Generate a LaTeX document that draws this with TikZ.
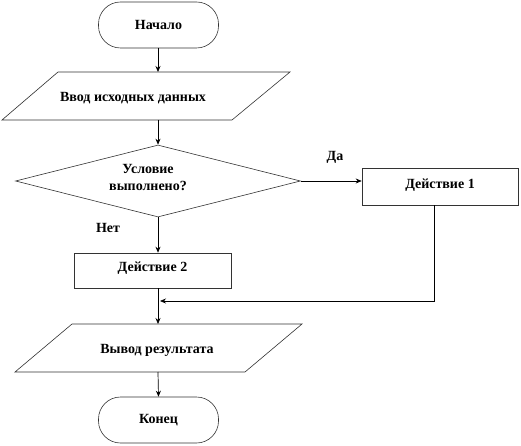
\documentclass[tikz,border=0pt]{standalone}
\usepackage{fontspec}
\setmainfont{Liberation Serif}
\usetikzlibrary{shapes.geometric,arrows.meta}
\begin{document}
\begin{tikzpicture}[x=1pt,y=-1pt,
  every node/.style={font=\fontsize{14}{15}\selectfont\bfseries},
  shapeline/.style={draw=black!80,line width=0.6pt},
  conn/.style={draw=black,line width=0.7pt,-{Stealth[length=6pt,width=5pt]}},
  term/.style={shapeline,rounded corners=22pt,minimum width=120pt,minimum height=46pt,inner sep=0pt},
  procbox/.style={shapeline,rectangle,inner sep=0pt},
  lbl/.style={inner sep=0pt}]
\useasboundingbox (0,0) rectangle (521,446);
% start
\node[term] (start) at (158.5,25) {Начало};
% input parallelogram
\draw[shapeline] (58,72) -- (290,72) -- (232,120) -- (2,120) -- cycle;
\node[lbl] (inp) at (133,98) {Ввод исходных данных};
\coordinate (inT) at (158,72);
\coordinate (inB) at (158,120);
% decision
\node[shapeline,diamond,minimum width=285pt,minimum height=72pt,inner sep=0pt] (dec) at (158,181) {};
\node[lbl,align=center] (dect) at (148,178) {Условие\\[2pt]выполнено?};
% action 1
\node[procbox,minimum width=156pt,minimum height=37pt] (a1) at (440,186.5) {};
\node[lbl] (a1t) at (440,185) {Действие 1};
% action 2
\node[procbox,minimum width=157pt,minimum height=35pt] (a2) at (152.5,270.5) {};
\node[lbl] (a2t) at (152.5,268) {Действие 2};
% output parallelogram
\draw[shapeline] (72,324) -- (302,324) -- (245,372) -- (15,372) -- cycle;
\node[lbl] (outp) at (157,350) {Вывод результата};
\coordinate (outT) at (158,324);
\coordinate (outB) at (158,372);
% end
\node[term] (end) at (158.5,420) {Конец};
% labels
\node[lbl] (yes) at (335,157) {Да};
\node[lbl] (no) at (108,228) {Нет};
% connectors
\coordinate (s1) at (158,48);
\draw[conn] (s1) -- (inT);
\draw[conn] (inB) -- (dec.north);
\draw[conn] (dec.east) -- (dec.east -| a1.west);
\draw[conn] (dec.south) -- (dec.south |- a2.north);
\coordinate (a2b) at (158,288);
\draw[conn] (a2b) -- (outT);
\coordinate (a1b) at (434,205);
\coordinate (merge) at (434,301);
\coordinate (mergeEnd) at (160,301);
\draw[conn] (a1b) -- (merge) -- (mergeEnd);
\draw[conn] (outB) -- (end.north);
\end{tikzpicture}
\end{document}
